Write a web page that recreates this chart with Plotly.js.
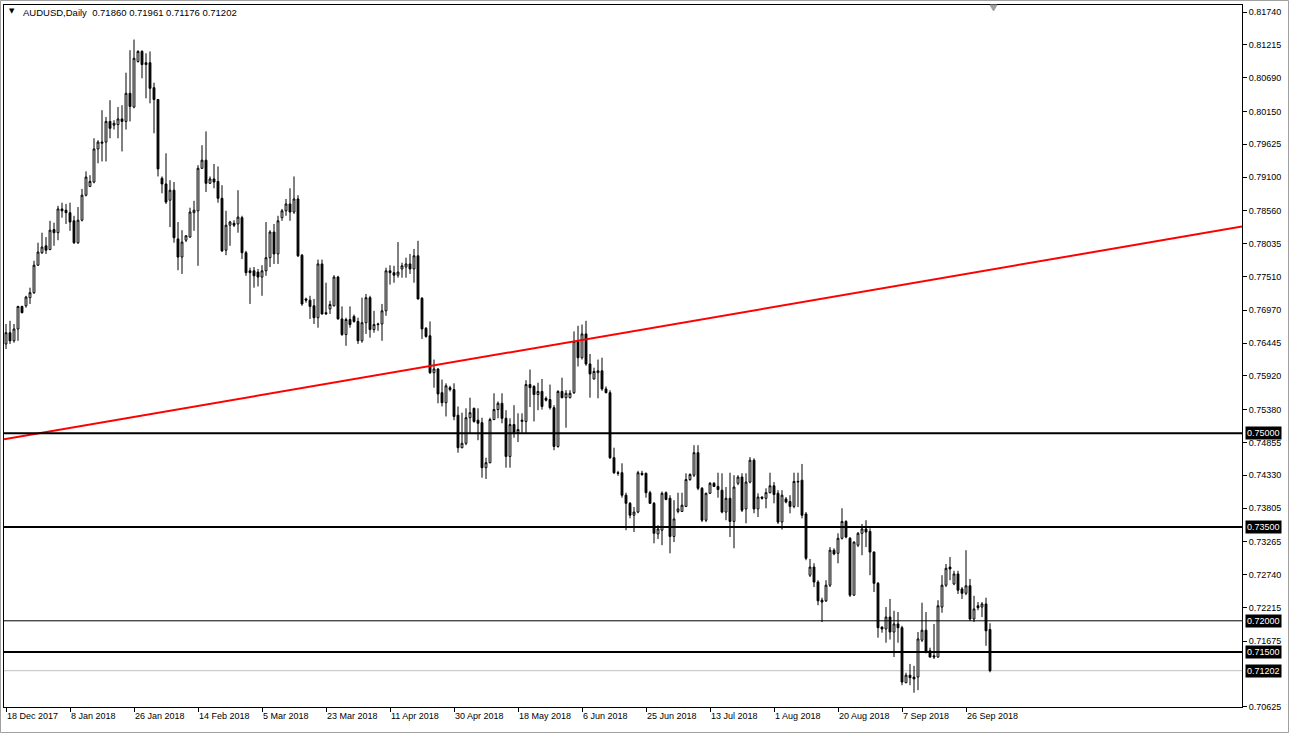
<!DOCTYPE html>
<html>
<head>
<meta charset="utf-8">
<script src="https://cdn.plot.ly/plotly-3.0.1.min.js"></script>
<style>
  html, body { margin: 0; padding: 0; background: #ffffff; }
  #chart { width: 1289px; height: 733px; }
</style>
</head>
<body>
<div id="chart"></div>
<script>
// ---------------- DATA ----------------
const symbolName = "AUDUSD,Daily";

const openP = [
.7643,.7661,.7648,.7667,.7703,.7704,.7717,.7725,.7769,.7789,
.7800,.7794,.7826,.7821,.7859,.7857,.7853,.7840,.7805,.7841,
.7881,.7895,.7902,.7955,.7964,.7966,.7999,.7993,.7994,.8003,
.7999,.8044,.8022,.8095,.8111,.8090,.8093,.8053,.8034,.7908,
.7899,.7873,.7889,.7811,.7782,.7809,.7814,.7853,.7856,.7924,
.7937,.7900,.7907,.7903,.7876,.7793,.7833,.7836,.7835,.7845,
.7789,.7760,.7760,.7758,.7750,.7760,.7781,.7822,.7787,.7845,
.7856,.7867,.7854,.7875,.7785,.7715,.7713,.7704,.7685,.7771,
.7693,.7699,.7704,.7750,.7683,.7658,.7682,.7687,.7679,.7648,
.7677,.7717,.7666,.7675,.7675,.7696,.7760,.7757,.7753,.7763,
.7766,.7771,.7763,.7784,.7716,.7668,.7656,.7597,.7603,.7565,
.7549,.7573,.7570,.7529,.7477,.7484,.7525,.7540,.7521,.7517,
.7445,.7453,.7522,.7538,.7548,.7524,.7463,.7514,.7501,.7519,
.7519,.7578,.7575,.7562,.7567,.7556,.7554,.7541,.7479,.7567,
.7557,.7557,.7565,.7647,.7621,.7659,.7611,.7587,.7597,.7600,
.7571,.7565,.7461,.7437,.7437,.7401,.7388,.7369,.7374,.7436,
.7436,.7405,.7388,.7339,.7345,.7405,.7396,.7335,.7375,.7375,
.7383,.7426,.7433,.7469,.7412,.7361,.7404,.7420,.7415,.7409,
.7374,.7396,.7359,.7420,.7430,.7379,.7422,.7457,.7379,.7398,
.7396,.7405,.7416,.7404,.7358,.7395,.7391,.7383,.7422,.7425,
.7371,.7273,.7286,.7262,.7233,.7232,.7257,.7313,.7308,.7332,
.7359,.7332,.7241,.7321,.7340,.7347,.7343,.7310,.7260,.7190,
.7187,.7206,.7182,.7195,.7189,.7101,.7113,.7110,.7110,.7169,
.7185,.7152,.7144,.7142,.7222,.7257,.7286,.7259,.7275,.7251,
.7244,.7256,.7203,.7224,.7222,.7227,.71860
];

const highP = [
.7675,.7680,.7675,.7704,.7704,.7720,.7733,.7776,.7805,.7821,
.7814,.7840,.7837,.7864,.7869,.7867,.7869,.7848,.7862,.7891,
.7919,.7913,.7972,.7969,.8017,.8006,.8033,.8001,.8022,.8025,
.8077,.8113,.8130,.8113,.8113,.8108,.8111,.8061,.8035,.7911,
.7948,.7905,.7902,.7838,.7825,.7817,.7861,.7872,.7929,.7961,
.7983,.7911,.7931,.7927,.7897,.7856,.7840,.7841,.7889,.7848,
.7792,.7765,.7766,.7763,.7769,.7838,.7825,.7835,.7848,.7859,
.7875,.7892,.7911,.7881,.7787,.7717,.7720,.7715,.7778,.7778,
.7741,.7712,.7753,.7752,.7703,.7685,.7703,.7690,.7685,.7717,
.7723,.7720,.7696,.7677,.7707,.7765,.7769,.7768,.7806,.7773,
.7781,.7787,.7795,.7808,.7718,.7670,.7679,.7618,.7604,.7586,
.7580,.7576,.7580,.7543,.7533,.7540,.7557,.7541,.7540,.7525,
.7461,.7525,.7564,.7551,.7564,.7537,.7524,.7545,.7532,.7532,
.7585,.7602,.7577,.7581,.7587,.7559,.7578,.7545,.7569,.7589,
.7569,.7569,.7663,.7672,.7674,.7680,.7627,.7605,.7618,.7621,
.7575,.7569,.7477,.7440,.7452,.7405,.7390,.7382,.7440,.7440,
.7437,.7408,.7390,.7353,.7407,.7407,.7401,.7393,.7405,.7405,
.7436,.7436,.7481,.7481,.7414,.7405,.7422,.7422,.7437,.7436,
.7414,.7437,.7433,.7433,.7436,.7436,.7462,.7460,.7404,.7399,
.7412,.7437,.7422,.7409,.7409,.7398,.7401,.7437,.7437,.7451,
.7374,.7299,.7292,.7265,.7237,.7265,.7318,.7316,.7340,.7380,
.7361,.7334,.7327,.7342,.7355,.7361,.7348,.7311,.7262,.7191,
.7222,.7235,.7216,.7214,.7192,.7117,.7131,.7128,.7182,.7229,
.7214,.7157,.7195,.7233,.7273,.7291,.7302,.7280,.7280,.7254,
.7313,.7267,.7240,.7230,.7230,.7237,.71961
];

const lowP = [
.7635,.7643,.7645,.7648,.7692,.7701,.7707,.7723,.7768,.7787,
.7787,.7793,.7800,.7809,.7845,.7835,.7824,.7803,.7803,.7839,
.7879,.7894,.7900,.7932,.7935,.7935,.7972,.7986,.7972,.7951,
.7986,.7999,.8020,.8093,.8068,.8036,.8028,.7980,.7911,.7884,
.7867,.7830,.7805,.7761,.7755,.7806,.7813,.7824,.7768,.7923,
.7886,.7899,.7892,.7869,.7790,.7785,.7800,.7830,.7821,.7779,
.7752,.7707,.7733,.7735,.7720,.7752,.7766,.7771,.7771,.7840,
.7848,.7840,.7851,.7782,.7704,.7709,.7683,.7675,.7669,.7690,
.7690,.7691,.7703,.7682,.7656,.7640,.7669,.7677,.7643,.7645,
.7659,.7653,.7661,.7664,.7648,.7688,.7738,.7741,.7749,.7749,
.7749,.7755,.7741,.7714,.7651,.7653,.7595,.7573,.7548,.7543,
.7527,.7567,.7521,.7469,.7476,.7481,.7500,.7517,.7489,.7429,
.7427,.7452,.7521,.7524,.7516,.7445,.7445,.7493,.7486,.7501,
.7500,.7542,.7519,.7537,.7538,.7551,.7538,.7473,.7477,.7556,
.7509,.7556,.7563,.7607,.7618,.7608,.7557,.7586,.7556,.7568,
.7564,.7459,.7435,.7432,.7397,.7345,.7364,.7342,.7372,.7432,
.7397,.7387,.7324,.7331,.7321,.7393,.7308,.7326,.7372,.7374,
.7382,.7424,.7430,.7409,.7358,.7358,.7403,.7414,.7397,.7372,
.7361,.7334,.7316,.7417,.7374,.7356,.7420,.7372,.7366,.7394,
.7380,.7404,.7388,.7355,.7346,.7388,.7372,.7380,.7382,.7364,
.7297,.7270,.7254,.7225,.7198,.7230,.7254,.7305,.7292,.7330,
.7332,.7238,.7240,.7318,.7305,.7318,.7273,.7246,.7173,.7181,
.7165,.7170,.7142,.7165,.7097,.7100,.7097,.7085,.7089,.7166,
.7148,.7141,.7139,.7141,.7213,.7254,.7265,.7257,.7243,.7235,
.7241,.7200,.7198,.7217,.7206,.7160,.71176
];

const closeP = [
.7661,.7648,.7667,.7703,.7693,.7718,.7725,.7769,.7790,.7798,
.7793,.7825,.7821,.7859,.7856,.7853,.7838,.7805,.7841,.7881,
.7910,.7903,.7955,.7966,.7966,.7999,.7988,.7996,.8003,.7999,
.8044,.8023,.8100,.8111,.8090,.8093,.8052,.8034,.7923,.7899,
.7870,.7889,.7813,.7782,.7806,.7816,.7854,.7857,.7924,.7937,
.7900,.7907,.7902,.7876,.7792,.7833,.7838,.7833,.7846,.7789,
.7757,.7757,.7752,.7750,.7760,.7781,.7822,.7787,.7840,.7856,
.7867,.7854,.7875,.7784,.7707,.7713,.7703,.7685,.7771,.7691,
.7691,.7706,.7750,.7683,.7658,.7682,.7674,.7679,.7648,.7677,
.7717,.7666,.7674,.7674,.7696,.7760,.7757,.7753,.7758,.7768,
.7771,.7763,.7784,.7715,.7667,.7655,.7597,.7603,.7563,.7549,
.7576,.7570,.7527,.7477,.7484,.7525,.7533,.7519,.7516,.7445,
.7453,.7522,.7538,.7548,.7524,.7463,.7514,.7501,.7506,.7521,
.7578,.7573,.7562,.7567,.7543,.7553,.7541,.7479,.7567,.7557,
.7564,.7564,.7647,.7621,.7659,.7611,.7595,.7599,.7600,.7571,
.7565,.7461,.7437,.7436,.7401,.7388,.7369,.7374,.7437,.7434,
.7405,.7388,.7340,.7347,.7404,.7394,.7335,.7363,.7379,.7385,
.7426,.7434,.7469,.7412,.7361,.7404,.7420,.7415,.7410,.7374,
.7396,.7359,.7414,.7430,.7377,.7422,.7457,.7379,.7398,.7396,
.7405,.7416,.7402,.7358,.7401,.7390,.7383,.7423,.7423,.7369,
.7300,.7286,.7262,.7232,.7230,.7257,.7313,.7307,.7332,.7359,
.7334,.7241,.7326,.7340,.7347,.7342,.7310,.7260,.7189,.7187,
.7206,.7182,.7195,.7189,.7102,.7113,.7109,.7107,.7171,.7185,
.7150,.7142,.7142,.7224,.7257,.7284,.7283,.7275,.7249,.7244,
.7256,.7203,.7219,.7221,.7227,.7184,.71202
];

// date labels of the time axis and the bar each one belongs to
const dateLabels = ["18 Dec 2017","8 Jan 2018","26 Jan 2018","14 Feb 2018","5 Mar 2018",
  "23 Mar 2018","11 Apr 2018","30 Apr 2018","18 May 2018","6 Jun 2018","25 Jun 2018",
  "13 Jul 2018","1 Aug 2018","20 Aug 2018","7 Sep 2018","26 Sep 2018"];
const dateLabelBars = [0,16,32,48,64,80,96,112,128,144,160,176,192,208,224,240];

// price scale labels
const priceTicks = [0.81740,0.81215,0.80690,0.80150,0.79625,0.79100,0.78560,0.78035,
  0.77510,0.76970,0.76445,0.75920,0.75380,0.74855,0.74330,0.73805,0.73265,0.72740,
  0.72215,0.71675,0.70625];

// horizontal levels drawn on the chart
const levelPrices = [0.75000, 0.73500, 0.72000, 0.71500];

// red trend line: two anchor points (bar, price)
const trendAnchorBars = [0, 240];
const trendAnchorPrices = [0.7491, 0.7755];

// ---------------- CHART ----------------
const barIndex = openP.map((_, i) => i);
const last = openP.length - 1;
const lastClose = closeP[last];

const xRange = [-0.5, 309];
const yRange = [0.70621, 0.81853];

const slope = (trendAnchorPrices[1] - trendAnchorPrices[0]) / (trendAnchorBars[1] - trendAnchorBars[0]);
const trendX = [xRange[0], xRange[1]];
const trendY = trendX.map(b => trendAnchorPrices[0] + (b - trendAnchorBars[0]) * slope);

const candles = {
  type: 'candlestick',
  x: barIndex, open: openP, high: highP, low: lowP, close: closeP,
  increasing: { line: { color: '#000000', width: 1 }, fillcolor: '#ffffff' },
  decreasing: { line: { color: '#000000', width: 1 }, fillcolor: '#000000' },
  whiskerwidth: 0,
  hoverinfo: 'skip',
  showlegend: false
};

const trend = {
  type: 'scatter', mode: 'lines',
  x: trendX, y: trendY,
  line: { color: '#ff0000', width: 2 },
  hoverinfo: 'skip', showlegend: false
};

const levelWidth = [2, 2, 1, 2];
const shapes = levelPrices.map((p, i) => ({
  type: 'line', xref: 'paper', yref: 'y', x0: 0, x1: 1, y0: p, y1: p,
  line: { color: '#000000', width: levelWidth[i] }, layer: 'above'
}));
shapes.push({
  type: 'line', xref: 'paper', yref: 'y', x0: 0, x1: 1, y0: lastClose, y1: lastClose,
  line: { color: '#c0c0c0', width: 1 }, layer: 'below'
});
// chart shift marker (small grey triangle at top)
shapes.push({
  type: 'path', xref: 'paper', yref: 'paper',
  path: 'M 0.7964 1 L 0.8021 1 L 0.7993 0.9915 Z',
  fillcolor: '#a0a0a0', line: { color: '#a0a0a0', width: 1 }
});
// outer window frame
shapes.push({
  type: 'rect', xref: 'paper', yref: 'paper',
  x0: -3.5/1238, x1: (1288.5-4)/1238, y0: -25.5/702, y1: 1 + 4.5/702,
  line: { color: '#a0a0a0', width: 1 }, fillcolor: 'rgba(0,0,0,0)'
});

const boxFont = { family: 'Liberation Sans, Arial, sans-serif', size: 9, color: '#ffffff' };
const annotations = levelPrices.concat([lastClose]).map(p => ({
  xref: 'paper', yref: 'y', x: 1, y: p, xanchor: 'left', yanchor: 'middle',
  xshift: 3, text: p.toFixed(5), showarrow: false,
  bgcolor: '#000000', borderpad: 1, font: boxFont
}));
annotations.push({
  xref: 'paper', yref: 'paper', x: 0.0025, y: 0.991, xanchor: 'left', yanchor: 'middle',
  text: '▼', showarrow: false, font: { family: 'DejaVu Sans', size: 7, color: '#000000' }
});
annotations.push({
  xref: 'paper', yref: 'paper', x: 0.0135, y: 0.990, xanchor: 'left', yanchor: 'middle',
  text: symbolName + '  ' + [openP[last], highP[last], lowP[last], closeP[last]].map(v => v.toFixed(5)).join(' '),
  showarrow: false, font: { family: 'Liberation Sans, Arial, sans-serif', size: 9.5, color: '#000000' }
});

const axisFont = { family: 'Liberation Sans, Arial, sans-serif', size: 9, color: '#000000' };

const layout = {
  width: 1289, height: 733,
  margin: { l: 4, r: 47, t: 5, b: 26, pad: 0 },
  paper_bgcolor: '#ffffff', plot_bgcolor: '#ffffff',
  showlegend: false,
  boxgap: 0.35,
  xaxis: {
    range: xRange, tickmode: 'array', tickvals: dateLabelBars, ticktext: dateLabels,
    ticks: 'outside', ticklen: 4, tickwidth: 1, tickcolor: '#000000',
    ticklabelposition: 'outside right',
    showgrid: false, zeroline: false, showline: true, linecolor: '#000000', linewidth: 1, mirror: true,
    tickfont: axisFont, rangeslider: { visible: false }, fixedrange: true
  },
  yaxis: {
    side: 'right', range: yRange, tickmode: 'array', tickvals: priceTicks,
    tickformat: '.5f',
    ticks: 'outside', ticklen: 4, tickwidth: 1, tickcolor: '#000000',
    showgrid: false, zeroline: false, showline: true, linecolor: '#000000', linewidth: 1, mirror: true,
    tickfont: axisFont, fixedrange: true
  },
  shapes: shapes,
  annotations: annotations
};

Plotly.newPlot('chart', [trend, candles], layout, { staticPlot: true, displayModeBar: false });
</script>
</body>
</html>
